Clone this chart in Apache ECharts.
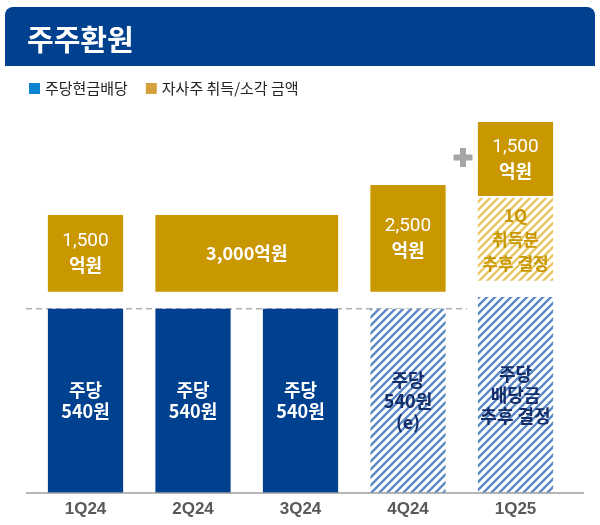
<!DOCTYPE html>
<html><head><meta charset="utf-8">
<script src="https://cdn.jsdelivr.net/npm/echarts@6/dist/echarts.min.js"></script>
<style>html,body{margin:0;padding:0;background:#fff}#c{width:600px;height:525px}</style>
</head><body><div id="c"></div>
<script>
// ---- data ----
const categories = ['1Q24', '2Q24', '3Q24', '4Q24', '1Q25'];
// dividend block heights (schematic level; 540 = 주당 540원)
const dividendLevel = [540, 540, 540, 540, 575];
const dividendLabels = ['주당\n540원', '주당\n540원', '주당\n540원', '주당\n540원\n(e)', '주당\n배당금\n추후 결정'];
const dividendConfirmed = [true, true, true, false, false];
// buyback boxes: category span and schematic levels
const buybackFrom = [0, 1, 3, 4, 4];
const buybackTo = [0, 2, 3, 4, 4];
const buybackLow = [590, 590, 590, 622, 871];
const buybackHigh = [815, 815, 903, 865, 1088];
const buybackLabels = ['1,500\n억원', '3,000억원', '2,500\n억원', '1Q\n취득분\n추후 결정', '1,500\n억원'];
const buybackConfirmed = [true, true, true, false, true];
const seriesNames = ['주당현금배당', '자사주 취득/소각 금액'];

const FONT = 'Noto Sans CJK KR';
const NAVY = '#00418F';
const GOLD = '#C99700';

function hatch(color) {
  const c = document.createElement('canvas');
  c.width = 8; c.height = 8;
  const g = c.getContext('2d');
  g.fillStyle = '#ffffff'; g.fillRect(0, 0, 8, 8);
  g.strokeStyle = color; g.lineWidth = 2.3;
  g.beginPath();
  g.moveTo(-2, 10); g.lineTo(10, -2);
  g.moveTo(-4, 4); g.lineTo(4, -4);
  g.moveTo(4, 12); g.lineTo(12, 4);
  g.stroke();
  return c;
}
const blueHatch = { image: hatch('#5A88C6'), repeat: 'repeat' };
const goldHatch = { image: hatch('#E8C663'), repeat: 'repeat' };

function richText(label) {
  return label.split('\n').map(line => {
    const m = line.match(/^([\d,]+)(억원)?$/);
    if (m) {
      if (m[2]) return '{nb|' + m[1] + '}{b|' + m[2] + '}';
      return '{n|' + m[1] + '}';
    }
    if (line === '억원') return '{b|억원}';
    return '{h|' + line + '}';
  }).join('\n');
}

const chart = echarts.init(document.getElementById('c'));
chart.setOption({
  animation: false,
  title: {
    text: '주주환원', left: 22, top: 20,
    textStyle: { color: '#fff', fontSize: 29, fontWeight: 'bold', fontFamily: FONT }
  },
  legend: {
    left: 24, top: 76, icon: 'rect', itemWidth: 11, itemHeight: 11, itemGap: 18,
    selectedMode: false,
    textStyle: { fontSize: 15, color: '#222', fontFamily: FONT },
    data: [
      { name: seriesNames[0], itemStyle: { color: '#0A84D0' } },
      { name: seriesNames[1], itemStyle: { color: '#D4A23C' } }
    ]
  },
  grid: { left: 31.75, right: 30.75, top: 111, bottom: 32 },
  xAxis: {
    type: 'category', data: categories,
    axisLine: { show: false }, axisTick: { show: false },
    axisLabel: { fontSize: 17, fontWeight: 'bold', color: '#595959', margin: 8, fontFamily: 'Liberation Sans' }
  },
  yAxis: { type: 'value', min: 0, max: 1120, show: false, splitLine: { show: false } },
  series: [
    {
      name: seriesNames[0], type: 'bar', barWidth: '70%', silent: true,
      itemStyle: { color: NAVY },
      data: dividendLevel.map((v, i) => ({
        value: v,
        itemStyle: { color: dividendConfirmed[i] ? NAVY : blueHatch },
        label: { color: dividendConfirmed[i] ? '#ffffff' : '#132E6A' }
      })),
      label: {
        show: true, position: 'inside',
        formatter: p => dividendLabels[p.dataIndex],
        fontSize: 18, fontWeight: 'bold', lineHeight: 21, fontFamily: FONT
      }
    },
    {
      name: seriesNames[1], type: 'custom', silent: true,
      itemStyle: { color: GOLD },
      encode: { x: [0, 1], y: [2, 3] },
      data: buybackFrom.map((f, i) => [f, buybackTo[i], buybackLow[i], buybackHigh[i]]),
      renderItem: (params, api) => {
        const i = params.dataIndex;
        const bw = api.size([1, 0])[0] * 0.70;
        const p0 = api.coord([api.value(0), api.value(2)]);
        const p1 = api.coord([api.value(1), api.value(3)]);
        const x0 = p0[0] - bw / 2, x1 = p1[0] + bw / 2;
        return {
          type: 'rect',
          shape: { x: x0, y: p1[1], width: x1 - x0, height: p0[1] - p1[1] },
          style: { fill: buybackConfirmed[i] ? GOLD : goldHatch },
          textContent: {
            style: {
              text: richText(buybackLabels[i]),
              align: 'center', verticalAlign: 'middle',
              rich: {
                n: { fill: '#fff', fontSize: 19, fontFamily: 'Roboto', fontWeight: 'normal', lineHeight: 24 },
                nb: { fill: '#fff', fontSize: 18, fontFamily: FONT, fontWeight: 'bold', lineHeight: 24 },
                b: { fill: '#fff', fontSize: 18, fontFamily: FONT, fontWeight: 'bold', lineHeight: 24 },
                h: { fill: '#C99700', fontSize: 17, fontFamily: FONT, fontWeight: 'bold', lineHeight: 24 }
              }
            }
          },
          textConfig: { position: 'inside' }
        };
      }
    }
  ]
});

const yBase = chart.convertToPixel({ yAxisIndex: 0 }, 0);
const yDiv = chart.convertToPixel({ yAxisIndex: 0 }, dividendLevel[0]);
chart.setOption({
  graphic: [
    { type: 'rect', z: -10, shape: { x: 5, y: 7, width: 590, height: 59, r: [8, 8, 0, 0] }, style: { fill: NAVY } },
    { type: 'line', z: 10, shape: { x1: 26, y1: yBase, x2: 584, y2: yBase }, style: { stroke: '#9E9E9E', lineWidth: 1.5 } },
    { type: 'line', z: -5, shape: { x1: 26, y1: yDiv, x2: 467, y2: yDiv }, style: { stroke: '#AFAFAF', lineWidth: 1.5, lineDash: [6, 4] } },
    { type: 'rect', shape: { x: 453.5, y: 154.5, width: 19, height: 6 }, style: { fill: '#A6A6A6' } },
    { type: 'rect', shape: { x: 460, y: 148, width: 6, height: 19 }, style: { fill: '#A6A6A6' } }
  ]
});
</script></body></html>
